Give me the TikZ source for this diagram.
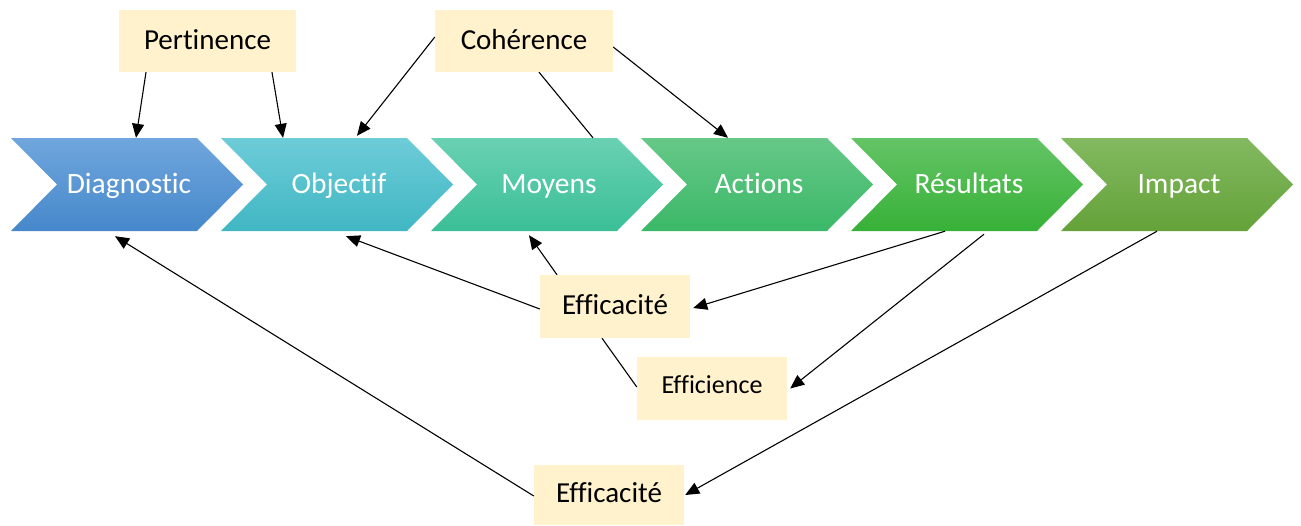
\documentclass[tikz,border=0pt]{standalone}
\usepackage{fontspec}
\setmainfont{Carlito}[Ligatures=NoCommon]
\usetikzlibrary{arrows.meta}
\definecolor{boxfill}{HTML}{FFF2CC}
\definecolor{diagT}{HTML}{70A6DD}\definecolor{diagB}{HTML}{4688CB}
\definecolor{objT}{HTML}{6DCCD8}\definecolor{objB}{HTML}{40B7C3}
\definecolor{moyT}{HTML}{69D1B2}\definecolor{moyB}{HTML}{3BBF96}
\definecolor{actT}{HTML}{66C887}\definecolor{actB}{HTML}{3BB868}
\definecolor{resT}{HTML}{64C466}\definecolor{resB}{HTML}{37B137}
\definecolor{impT}{HTML}{83B961}\definecolor{impB}{HTML}{64A239}
\newcommand{\mychev}[5]{%
  \shade[top color=#4,bottom color=#5]
    (#1,138) -- ++(186,0) -- ++(46,46.5) -- ++(-46,46.5) -- ++(-186,0) -- ++(46,-46.5) -- cycle;
  \node[chevtext] (#2) at (#1+118,184.5) {#3};}
\tikzset{
  chevtext/.style={text=white,font=\fontsize{29.5}{35}\selectfont,minimum width=186pt,minimum height=93pt,inner sep=0pt,text height=22pt,text depth=5pt},
  lbl/.style={fill=boxfill,text=black,font=\fontsize{29}{35}\selectfont,inner sep=0pt,minimum width=150pt,minimum height=63pt,text height=21pt,text depth=5pt},
  conn/.style={line width=1.1pt,black},
  arr/.style={conn,-{Triangle[length=14pt,width=12pt]}}
}
\begin{document}
\begin{tikzpicture}[x=1pt,y=-1pt]
\useasboundingbox (0,0) rectangle (1301,525);
\mychev{11}{diag}{Diagnostic}{diagT}{diagB}
\mychev{221}{obj}{Objectif}{objT}{objB}
\mychev{431}{moy}{Moyens}{moyT}{moyB}
\mychev{641}{act}{Actions}{actT}{actB}
\mychev{851}{res}{Résultats}{resT}{resB}
\mychev{1061}{imp}{Impact}{impT}{impB}

\node[lbl,minimum width=177pt,minimum height=62pt] (pert) at (207.5,41) {Pertinence};
\node[lbl,minimum width=178pt,minimum height=62pt] (coh) at (524,41) {Cohérence};
\node[lbl,text height=20pt,text depth=5pt] (eff1) at (615,306.5) {Efficacité};
\node[lbl,font=\fontsize{26}{31}\selectfont,text height=15pt,text depth=6pt] (effi) at (712,388.5) {Efficience};
\node[lbl,minimum height=60pt,text height=19pt,text depth=5pt] (eff2) at (609,495) {Efficacité};

\draw[arr] ([xshift=-61.5pt]pert.south) -- ([xshift=7pt]diag.north);
\draw[arr] ([xshift=64.5pt]pert.south) -- ([xshift=-56pt]obj.north);
\draw[arr] ([yshift=4pt]coh.west) -- ([xshift=18pt,yshift=2pt]obj.north);
\draw[conn] ([xshift=15pt]coh.south) -- ([xshift=44pt]moy.north);
\draw[arr] ([yshift=-6pt]coh.east) -- ([xshift=-31pt]act.north);
\draw[arr] ([xshift=-24pt]res.south) -- ([xshift=3pt,yshift=-1.5pt]eff1.east);
\draw[arr] ([xshift=-58pt]eff1.north) -- ([xshift=-20pt,yshift=-4pt]moy.south);
\draw[arr] ([yshift=-2.5pt]eff1.west) -- ([xshift=7pt,yshift=-5pt]obj.south);
\draw[arr] ([xshift=15pt,yshift=-3pt]res.south) -- ([xshift=3pt]effi.east);
\draw[conn] ([yshift=1.5pt]effi.west) -- ([xshift=-13pt]eff1.south);
\draw[arr] ([xshift=-22pt]imp.south) -- ([xshift=1pt]eff2.east);
\draw[arr] ([yshift=-1pt]eff2.west) -- ([xshift=-14pt,yshift=-5pt]diag.south);
\end{tikzpicture}
\end{document}
